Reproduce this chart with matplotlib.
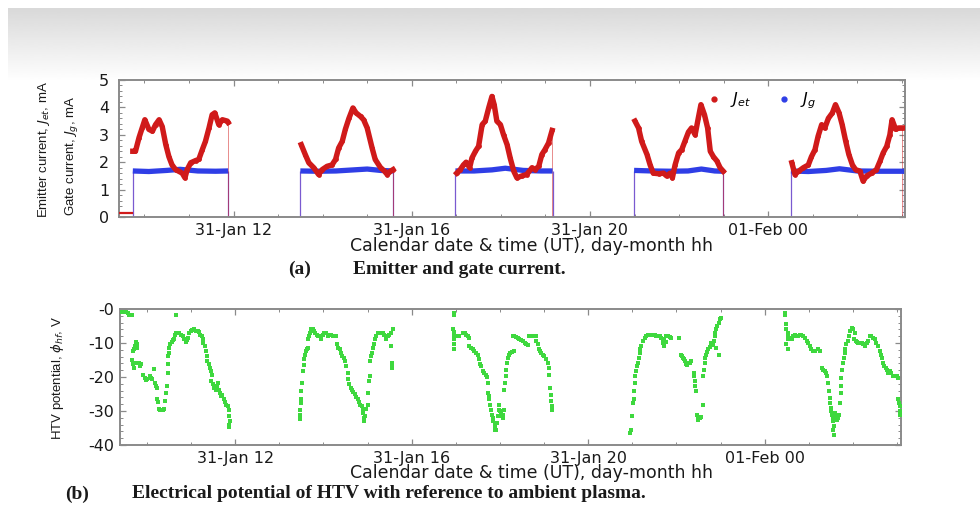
import numpy as np
import matplotlib
matplotlib.use("Agg")
import matplotlib.pyplot as plt
from matplotlib.ticker import MultipleLocator
from matplotlib.lines import Line2D

# hours counted from 31-Jan 00 UT
pass_start = [9.74, 13.50, 16.98, 20.99, 24.51]
pass_end = [11.88, 15.58, 19.16, 22.99, 27.05]

idle_hours = [9.43, 9.73]
idle_ma = [0.15, 0.15]

jet_hours = [
    [9.74, 9.80, 9.88, 9.95, 10.01, 10.10, 10.18, 10.25, 10.33, 10.40,
     10.48, 10.55, 10.62, 10.70, 10.77, 10.85, 10.91, 10.96, 11.04, 11.15,
     11.22, 11.30, 11.37, 11.45, 11.52, 11.58, 11.67, 11.75, 11.86, 11.88],
    [13.52, 13.61, 13.69, 13.80, 13.91, 13.99, 14.10, 14.21, 14.29, 14.36,
     14.44, 14.51, 14.59, 14.68, 14.75, 14.85, 14.92, 15.00, 15.11, 15.18,
     15.30, 15.39, 15.45, 15.52, 15.58],
    [17.01, 17.09, 17.16, 17.22, 17.30, 17.35, 17.43, 17.50, 17.58, 17.65,
     17.73, 17.80, 17.85, 17.91, 17.99, 18.06, 18.14, 18.21, 18.29, 18.36,
     18.47, 18.58, 18.70, 18.77, 18.85, 18.92, 18.99, 19.07, 19.15],
    [21.01, 21.09, 21.16, 21.28, 21.35, 21.42, 21.54, 21.65, 21.72, 21.80,
     21.85, 21.91, 21.99, 22.06, 22.13, 22.21, 22.28, 22.36, 22.43, 22.49,
     22.57, 22.64, 22.70, 22.77, 22.85, 22.92, 22.99],
    [24.53, 24.60, 24.68, 24.79, 24.90, 24.97, 25.05, 25.12, 25.20, 25.27,
     25.35, 25.44, 25.51, 25.59, 25.66, 25.74, 25.81, 25.89, 25.96, 26.06,
     26.13, 26.21, 26.32, 26.43, 26.51, 26.58, 26.66, 26.73, 26.78, 26.86,
     26.93, 27.01],
]
jet_ma = [
    [2.4, 2.4, 2.9, 3.25, 3.55, 3.2, 3.13, 3.37, 3.55, 3.3,
     2.64, 2.2, 1.9, 1.73, 1.67, 1.6, 1.43, 1.73, 1.98, 2.06,
     2.1, 2.46, 2.76, 3.25, 3.73, 3.8, 3.37, 3.55, 3.5, 3.45],
    [2.64, 2.28, 1.98, 1.8, 1.55, 1.73, 1.85, 1.9, 2.1, 2.52,
     2.76, 3.2, 3.6, 3.98, 3.8, 3.67, 3.55, 3.25, 2.52, 2.1,
     1.8, 1.67, 1.55, 1.67, 1.73],
    [1.6, 1.73, 1.9, 2.0, 1.8, 2.15, 2.4, 2.58, 3.37, 3.5,
     4.0, 4.4, 4.1, 3.5, 3.37, 3.0, 2.64, 2.15, 1.67, 1.43,
     1.5, 1.55, 1.8, 1.73, 1.85, 2.28, 2.46, 2.7, 3.16],
    [3.5, 3.25, 2.76, 2.28, 1.9, 1.6, 1.58, 1.6, 1.5, 1.6,
     1.43, 1.9, 2.34, 2.46, 2.76, 3.1, 3.25, 3.0, 3.6, 4.1,
     3.73, 3.25, 2.4, 2.2, 2.04, 1.8, 1.67],
    [1.98, 1.55, 1.67, 1.8, 1.9, 2.2, 2.46, 2.95, 3.37, 3.25,
     3.6, 3.8, 4.1, 3.8, 3.37, 2.76, 2.28, 1.9, 1.73, 1.67,
     1.31, 1.5, 1.6, 1.73, 2.04, 2.34, 2.58, 3.0, 3.55, 3.2,
     3.25, 3.25],
]

jg_hours = [
    [9.74, 10.1, 10.5, 10.8, 11.2, 11.6, 11.88],
    [13.50, 13.9, 14.3, 14.7, 15.0, 15.3, 15.58],
    [16.98, 17.4, 17.8, 18.1, 18.5, 18.9, 19.16],
    [20.99, 21.4, 21.8, 22.2, 22.5, 22.8, 22.99],
    [24.51, 24.9, 25.3, 25.6, 26.0, 26.5, 27.05],
]
jg_ma = [
    [1.68, 1.66, 1.70, 1.74, 1.68, 1.67, 1.68],
    [1.68, 1.67, 1.68, 1.72, 1.75, 1.70, 1.68],
    [1.68, 1.68, 1.72, 1.78, 1.70, 1.68, 1.68],
    [1.70, 1.68, 1.67, 1.68, 1.75, 1.68, 1.67],
    [1.68, 1.66, 1.70, 1.76, 1.68, 1.67, 1.67],
]

pot_hours = [
    [9.41, 9.45, 9.48, 9.52, 9.56, 9.60, 9.63, 9.67, 10.65,
     9.69, 9.72, 9.75, 9.77, 9.78, 9.71,
     9.67, 9.69, 9.71, 9.74,
     9.81, 9.84, 9.86,
     9.92, 9.95, 9.98, 10.01,
     10.06, 10.09, 10.12, 10.15,
     10.18, 10.21, 10.22,
     10.22, 10.25,
     10.27, 10.30, 10.33, 10.36, 10.39,
     10.40, 10.43, 10.45,
     10.47, 10.47, 10.47, 10.49,
     10.50, 10.53, 10.56, 10.59, 10.62,
     10.63, 10.66, 10.69, 10.73, 10.77,
     10.81, 10.84, 10.88, 10.90, 10.93,
     10.96, 10.99, 11.03, 11.07, 11.11, 11.15, 11.18,
     11.21, 11.24, 11.26, 11.28, 11.31,
     11.34, 11.36, 11.37, 11.40, 11.42, 11.45, 11.47,
     11.46, 11.49, 11.52, 11.56, 11.58,
     11.61, 11.64, 11.66, 11.69, 11.71,
     11.74, 11.77, 11.80, 11.83, 11.86,
     11.87, 11.89, 11.87, 11.86],
    [13.46, 13.47, 13.47, 13.49, 13.49, 13.50, 13.52, 13.53,
     13.55, 13.57, 13.58, 13.60, 13.63, 13.64,
     13.66, 13.68, 13.70, 13.73,
     13.76, 13.79, 13.82, 13.85, 13.88,
     13.91, 13.94, 13.98, 14.02, 14.06, 14.10,
     14.13, 14.17, 14.21, 14.25, 14.28,
     14.31, 14.34, 14.37, 14.40, 14.43, 14.46, 14.49, 14.52, 14.55,
     14.56, 14.59, 14.62, 14.65, 14.68,
     14.71, 14.74, 14.78, 14.81, 14.84, 14.87, 14.89,
     14.90, 14.91, 14.93, 14.94, 14.96,
     15.00, 15.02, 15.04, 15.05,
     15.06, 15.08, 15.09, 15.12, 15.14, 15.17, 15.20, 15.23,
     15.27, 15.31, 15.34, 15.38, 15.42, 15.46, 15.49, 15.53, 15.57,
     15.42, 15.54, 15.55, 15.55, 15.55],
    [16.95, 16.95,
     16.93, 16.95, 16.97, 16.95, 16.95, 16.97,
     17.01, 17.08, 17.16, 17.20, 17.23, 17.27, 17.31,
     17.31, 17.35, 17.38, 17.42, 17.46, 17.50,
     17.52, 17.55, 17.57, 17.61, 17.65, 17.69, 17.70, 17.72,
     17.72, 17.75, 17.76, 17.78, 17.80, 17.82, 17.84, 17.85, 17.88, 17.90, 17.91, 17.88,
     17.93, 17.95, 17.97, 17.99, 18.00, 18.03, 18.05, 18.06, 18.08, 18.10,
     18.10, 18.12, 18.13, 18.14, 18.16, 18.18, 18.20, 18.23, 18.28, 18.31,
     18.29, 18.33, 18.37, 18.40, 18.44, 18.48, 18.52, 18.56, 18.59, 18.63,
     18.67, 18.71, 18.75, 18.78, 18.82,
     18.82, 18.86, 18.88, 18.91, 18.94, 18.97, 19.01, 19.05, 19.09, 19.11, 19.12,
     19.14, 19.15, 19.16, 19.17, 19.18],
    [20.95, 20.98, 21.00, 21.01, 21.03, 21.04, 21.06, 21.07, 21.09, 21.10,
     21.13, 21.15, 21.17, 21.18, 21.20, 21.24, 21.28, 21.32, 21.35,
     21.39, 21.43, 21.47, 21.51, 21.54, 21.58, 21.62, 21.66, 21.70, 21.73,
     21.77, 21.81, 21.85, 21.88, 22.07,
     21.70, 21.73, 21.77,
     22.10, 22.13, 22.15, 22.17, 22.20, 22.22, 22.25, 22.26, 22.30, 22.34,
     22.40, 22.41, 22.43, 22.43, 22.45,
     22.60, 22.47, 22.49, 22.50, 22.53, 22.56,
     22.60, 22.63, 22.64, 22.64, 22.66, 22.69, 22.72, 22.75, 22.78, 22.79,
     22.83, 22.85, 22.87, 22.88, 22.90, 22.93, 22.96, 22.98, 23.00, 22.90, 22.96],
    [24.46, 24.46, 24.49, 24.49, 24.52, 24.53, 24.52, 24.49, 24.52,
     24.57, 24.61, 24.64, 24.68, 24.72, 24.76, 24.80, 24.83, 24.87, 24.91,
     24.95, 24.98, 25.02, 25.06, 25.10, 25.14, 25.21, 25.25,
     25.29, 25.33, 25.36, 25.40, 25.42,
     25.44, 25.45, 25.48, 25.49, 25.50, 25.51, 25.53, 25.54, 25.56, 25.57, 25.55, 25.57,
     25.59, 25.60, 25.63, 25.65, 25.66, 25.68,
     25.70, 25.73, 25.74, 25.73,
     25.76, 25.78, 25.80, 25.82, 25.83, 25.85, 25.88, 25.91, 25.93, 25.97, 26.01, 26.04,
     26.03, 26.06, 26.09, 26.12, 26.16, 26.20, 26.23, 26.27, 26.31, 26.35, 26.38,
     26.42, 26.46, 26.50,
     26.53, 26.57, 26.61, 26.63, 26.66, 26.69, 26.71, 26.74, 26.77, 26.80, 26.84,
     26.87, 26.91, 26.95, 26.99, 27.03,
     27.03, 27.04, 27.06, 27.07, 27.07],
]
pot_volts = [
    [-0.9, -0.9, -0.9, -1.0, -1.1, -1.9, -1.9, -1.9, -1.9,
     -12.4, -10.9, -9.7, -10.4, -11.4, -11.9,
     -15.0, -16.3, -17.3, -15.8,
     -15.8, -16.8, -16.3,
     -19.3, -20.3, -20.9, -20.7,
     -19.8, -20.3, -20.7, -17.6,
     -21.7, -22.7, -23.2,
     -26.6, -27.4,
     -29.4, -29.8, -29.6, -29.8, -29.4,
     -27.1, -24.7, -22.7,
     -18.8, -16.3, -13.9, -12.9,
     -11.4, -10.4, -9.7, -9.1, -8.9,
     -7.5, -7.2, -7.0, -7.2, -7.5,
     -8.0, -8.8, -9.7, -9.1, -8.5,
     -7.0, -6.5, -6.2, -6.0, -6.4, -6.6, -6.8,
     -7.5, -8.0, -8.9, -9.9, -10.9,
     -12.4, -13.9, -15.3, -16.3, -17.3, -18.3, -19.3,
     -21.2, -22.2, -23.2, -23.7, -22.7,
     -21.7, -23.9, -24.7, -25.7, -25.2,
     -26.6, -27.4, -28.1, -28.6, -29.8,
     -31.6, -33.0, -34.0, -34.7],
    [-32.3, -31.1, -29.6, -27.6, -26.6, -24.2, -21.7, -18.3,
     -16.6, -14.8, -13.4, -12.4, -11.7, -11.4,
     -8.9, -8.0, -7.0, -6.0,
     -6.0, -6.5, -7.0, -7.5, -8.0,
     -8.0, -8.9, -7.5, -7.0, -7.2, -8.0,
     -7.5, -7.6, -7.8, -7.8, -8.0,
     -10.4, -11.4, -11.9, -12.9, -13.9, -14.4, -15.3, -16.8, -18.8,
     -20.7, -22.2, -23.2, -23.9, -24.5,
     -24.9, -25.9, -26.6, -27.4, -28.1, -28.6, -29.4,
     -30.6, -32.1, -33.0, -31.6, -29.4,
     -28.1, -24.7, -21.2, -19.8,
     -15.3, -13.9, -12.9, -11.4, -10.4, -8.9, -8.0, -7.2,
     -7.0, -7.0, -7.2, -7.5, -8.0, -7.8, -7.5, -7.0, -6.0,
     -8.9, -10.9, -15.8, -16.8, -17.3],
    [-1.1, -1.9,
     -5.8, -6.8, -8.0, -8.9, -10.4, -11.7,
     -8.0, -7.8, -7.2, -7.0, -7.5, -8.0, -8.5,
     -10.9, -11.4, -11.9, -12.4, -12.9, -13.4,
     -14.8, -16.3, -16.8, -18.3, -18.8, -19.3, -20.0, -21.7,
     -24.7, -25.7, -26.6, -28.1, -29.6, -31.1, -32.1, -33.0, -34.0, -35.0, -35.5, -35.5,
     -33.5, -31.6, -29.6, -28.1, -30.1, -30.6, -31.6, -32.1, -31.1, -29.6,
     -23.7, -21.7, -19.8, -17.8, -15.8, -14.4, -13.4, -12.9, -12.7, -12.4,
     -7.8, -8.0, -8.2, -8.5, -8.9, -9.1, -9.4, -9.9, -10.4, -10.7,
     -8.0, -7.8, -8.0, -7.8, -8.0,
     -9.4, -10.4, -11.9, -12.4, -12.9, -13.4, -13.9, -14.8, -15.8, -17.3, -19.3,
     -23.2, -25.2, -27.1, -28.6, -29.6],
    [-36.5, -35.5, -31.6, -27.6, -26.6, -24.2, -21.7, -19.8, -18.3, -16.8,
     -15.8, -14.4, -12.9, -11.9, -10.9, -9.4, -8.5, -8.0, -7.5,
     -7.5, -7.5, -7.5, -7.5, -8.0, -7.8, -8.0, -8.5, -8.9, -8.8,
     -8.0, -7.8, -8.2, -8.5, -8.5,
     -10.0, -10.9, -9.7,
     -13.4, -13.9, -14.4, -14.8, -15.3, -16.3, -16.6, -15.8, -15.8, -15.3,
     -18.8, -19.8, -21.2, -22.7, -24.2,
     -28.1, -31.1, -32.1, -32.5, -32.1, -31.9,
     -19.8, -17.8, -15.8, -14.4, -13.4, -12.7, -11.9, -11.1, -10.4, -9.9,
     -10.7, -9.4, -8.0, -7.0, -6.0, -5.0, -4.0, -3.0, -2.6, -11.4, -13.4],
    [-1.1, -1.9, -4.5, -6.0, -7.0, -8.0, -8.9, -10.4, -11.9,
     -8.5, -8.9, -8.0, -7.5, -8.0, -7.8, -7.5, -7.5, -8.0, -8.5,
     -9.4, -9.9, -10.9, -11.7, -12.4, -12.4, -11.9, -12.4,
     -17.3, -17.8, -18.3, -18.8, -19.8,
     -21.7, -24.2, -26.2, -27.6, -29.1, -30.1, -31.1, -32.1, -33.0, -34.5, -35.5, -37.0,
     -31.6, -30.6, -31.6, -32.5, -32.1, -31.1,
     -27.6, -24.7, -22.7, -20.3,
     -17.8, -15.8, -14.4, -12.9, -11.7, -10.4, -9.4, -8.0, -6.5, -5.5, -6.0, -7.0,
     -8.9, -9.4, -9.7, -9.9, -10.1, -9.9, -10.4, -10.9, -9.9, -9.4, -8.0,
     -7.8, -8.5, -8.9,
     -9.9, -10.9, -12.4, -13.4, -14.4, -15.8, -16.8, -17.3, -17.8, -18.8, -18.3,
     -18.8, -19.6, -19.8, -19.8, -20.3,
     -26.6, -27.6, -28.6, -30.1, -31.1],
]

tick_hours = [12, 16, 20, 24]
tick_labels = ["31-Jan 12", "31-Jan 16", "31-Jan 20", "01-Feb 00"]
pot_ticks = [0, -10, -20, -30, -40]
pot_tick_labels = ["-0", "-10", "-20", "-30", "-40"]

RED = "#d01a1a"
BLUE = "#2f3ee6"
GREEN = "#3ed83e"
FRAME = "#8a8a8a"

W, H = 980, 507
plt.rcParams["font.family"] = ["DejaVu Sans"]
plt.rcParams["mathtext.fontset"] = "dejavusans"

fig = plt.figure(figsize=(W / 100, H / 100), dpi=100)
fig.patch.set_facecolor("white")

# grey slide header band
bg = fig.add_axes([0, 0, 1, 1], zorder=-5)
bg.set_xlim(0, W)
bg.set_ylim(H, 0)
bg.axis("off")
grad = np.linspace(0.85, 1.0, 100).reshape(-1, 1)
bg.imshow(grad, cmap="gray", vmin=0, vmax=1, aspect="auto",
          extent=(8, W, 82, 8), interpolation="bilinear")


def fx(px):
    return px / W


def fy(py):
    return 1 - py / H


def style_axes(ax):
    for s in ax.spines.values():
        s.set_color(FRAME)
        s.set_linewidth(1.4)
    ax.xaxis.set_minor_locator(MultipleLocator(1))
    ax.set_xticks(tick_hours)
    ax.set_xticklabels(tick_labels)
    ax.tick_params(which="both", direction="in", color=FRAME, top=True, right=True,
                   labelsize=11.5, labelcolor="#1a1a1a")
    ax.tick_params(which="major", length=4, width=0.9)
    ax.tick_params(which="minor", length=2, width=0.7)
    ax.tick_params(axis="x", pad=4)


# (a) emitter and gate current
ax1 = fig.add_axes([fx(119), fy(217), fx(905) - fx(119), fy(80) - fy(217)])
for t, v in zip(jg_hours, jg_ma):
    ax1.plot(t, v, color=BLUE, lw=3.8, solid_capstyle="butt", zorder=3)
ax1.vlines(pass_start + pass_end, 0, 1.68, color="#7a5ad0", lw=0.9, zorder=2)
ax1.plot(idle_hours, idle_ma, color=RED, lw=1.6, zorder=4)
for t, v in zip(jet_hours, jet_ma):
    ax1.plot(t, v, color=RED, lw=3.9, marker="o", ms=2.4, zorder=4)
    ax1.vlines([t[-1]], 0, v[-1], color=RED, lw=0.7, alpha=0.5, zorder=2)
ax1.set_xlim(9.43, 27.07)
ax1.set_ylim(0, 5)
ax1.set_yticks([0, 1, 2, 3, 4, 5])
ax1.yaxis.set_minor_locator(MultipleLocator(0.2))
style_axes(ax1)
ax1.tick_params(axis="y", pad=7)

handles = [Line2D([], [], ls="none", marker="o", ms=3.5, color=RED),
           Line2D([], [], ls="none", marker="o", ms=3.5, color=BLUE)]
ax1.legend(handles, ["$J_{et}$", "$J_g$"], ncol=2, frameon=False,
           loc="upper right", bbox_to_anchor=(0.905, 1.03), fontsize=11.5,
           handlelength=0.8, handletextpad=0.6, columnspacing=1.7)

# (b) HTV potential
ax2 = fig.add_axes([fx(120), fy(445), fx(901) - fx(120), fy(309) - fy(445)])
ax2.scatter(np.concatenate(pot_hours), np.concatenate(pot_volts),
            marker="s", s=5.5, color=GREEN, linewidths=0, zorder=3)
ax2.set_xlim(9.39, 27.09)
ax2.set_ylim(-40, 0)
ax2.set_yticks(pot_ticks)
ax2.set_yticklabels(pot_tick_labels)
ax2.yaxis.set_minor_locator(MultipleLocator(2))
style_axes(ax2)
ax2.tick_params(axis="y", pad=4)

# axis titles
xlab = "Calendar date & time (UT), day-month hh"
fig.text(fx(532), fy(246), xlab, ha="center", va="center", fontsize=12.5, color="#1a1a1a")
fig.text(fx(532), fy(473), xlab, ha="center", va="center", fontsize=12.5, color="#1a1a1a")

ylab_font = dict(family=["Liberation Sans", "DejaVu Sans"], fontsize=9.5,
                 rotation=90, ha="center", va="center", color="#1a1a1a")
fig.text(fx(44), fy(149), "Emitter current, $J_{et}$, mA", **ylab_font)
fig.text(fx(72), fy(156), "Gate current, $J_g$, mA", **ylab_font)
fig.text(fx(57), fy(378), "HTV potential, $\\phi_{hf}$, V", **ylab_font)

# captions
cap_font = dict(family=["Liberation Serif", "DejaVu Serif"], fontsize=14,
                fontweight="bold", ha="left", va="center", color="#1a1a1a")
fig.text(fx(288), fy(269), "(a)", **cap_font)
fig.text(fx(353), fy(269), "Emitter and gate current.", **cap_font)
fig.text(fx(65), fy(494), "(b)", **cap_font)
fig.text(fx(132), fy(494), "Electrical potential of HTV with reference to ambient plasma.",
         **cap_font)

fig.savefig("out.png", dpi=100)
